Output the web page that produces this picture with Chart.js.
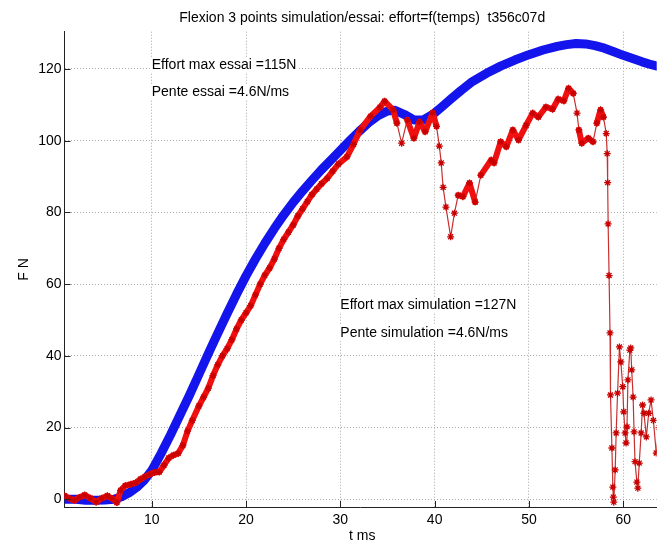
<!DOCTYPE html>
<html>
<head>
<meta charset="utf-8">
<script src="https://cdn.jsdelivr.net/npm/chart.js@4.4.0/dist/chart.umd.min.js"></script>
<style>
  html, body { margin: 0; padding: 0; background: #fff; overflow: hidden; }
  #wrap { width: 662px; height: 546px; }
</style>
</head>
<body>
<div id="wrap"><canvas id="chart" width="662" height="546"></canvas></div>
<script>
// Flexion 3 points - simulation vs essai, effort = f(temps)
const titleText = 'Flexion 3 points simulation/essai: effort=f(temps)  t356c07d';
const xTitle = 't ms';
const yTitle = 'F N';
const xTicks = [10, 20, 30, 40, 50, 60];
const yTicks = [0, 20, 40, 60, 80, 100, 120];
const notes = ['Effort max essai =115N', 'Pente essai =4.6N/ms',
               'Effort max simulation =127N', 'Pente simulation =4.6N/ms'];

// simulation (blue)
const simT = [0.75, 2, 3, 4, 5, 6, 6.8, 7.6, 8.4, 9.2, 10, 11, 12, 13, 14, 15, 16, 17, 18, 19,
              20, 21, 22, 23, 24, 25, 26, 27, 28, 29, 30, 31, 32, 33, 34, 35, 35.8, 36.8, 37.8, 38.8,
              39.8, 40.8, 41.8, 42.8, 44, 45.5, 47, 48.5, 50, 51.5, 53, 54, 55, 56, 57, 58,
              59, 60, 61, 62, 63, 64];
const simF = [0, 0, -0.3, -0.3, -0.2, 0, 0.7, 1.8, 3.3, 5.3, 8, 12.8, 18, 23.5, 29, 34.8, 40.6, 46.3, 51.8, 57.2,
              62.3, 67, 71.4, 75.5, 79.3, 82.8, 86, 89, 91.9, 94.6, 97.3, 100, 102.6, 105, 107, 108.3, 108.5, 107.3, 105.8, 105.8,
              107.3, 109.5, 111.8, 114, 116.5, 118.8, 120.8, 122.5, 124, 125.3, 126.3, 126.8, 127.1, 127, 126.5, 125.8,
              124.8, 123.8, 122.9, 122, 121.2, 120.5];

// essai (red)
const essaiT = [0.75, 1.3, 1.8, 2.3, 2.9, 3.5, 4.1, 4.7, 5.3, 5.8, 6.3, 6.7, 7.2, 7.8, 8.3, 8.8, 9.3, 9.8, 10.3, 10.8,
                11.3, 11.8, 12.3, 12.8, 13.3, 13.8, 14.3, 15, 15.5, 16, 16.5, 17, 17.5, 18, 18.5, 19, 19.5, 20, 20.5, 21,
                21.5, 22, 22.5, 23, 23.5, 24, 24.5, 25, 25.5, 26, 26.5, 27, 27.5, 28, 28.6, 29.2, 29.8, 30.7, 31.4, 32.1,
                33.2, 34.2, 34.7, 35.6, 36.0, 36.5, 37.1, 37.8, 38.4, 39.0, 39.8, 40.2, 40.5, 40.7, 40.9, 41.2, 41.7, 42.1, 42.5, 43.0,
                43.7, 44.3, 44.9, 46.0, 46.3, 47.0, 47.6, 48.3, 48.9, 49.7, 50.4, 51.0, 51.8, 52.5, 53.1, 53.7, 54.2, 54.7, 55.1, 55.3,
                55.6, 56.3, 56.8, 57.2, 57.6, 57.9, 58.2, 58.3, 58.35, 58.4, 58.5, 58.6, 58.65, 58.8, 58.9, 58.95, 59.0, 59.15, 59.25, 59.4,
                59.6, 59.75, 59.95, 60.05, 60.2, 60.3, 60.4, 60.5, 60.7, 60.8, 60.9, 61.05, 61.15, 61.25, 61.45, 61.55, 61.7, 61.9, 62.05, 62.2,
                62.45, 62.7, 62.95, 63.2, 63.5, 63.8];
const essaiF = [1.0, 0.2, -0.3, 0.5, 1.2, 0.3, -0.8, 0.3, 1.0, 0.2, -0.9, 2.5, 3.8, 4.2, 4.6, 5.6, 6.3, 7.0, 7.5, 7.6,
                9.5, 11.5, 12.3, 12.8, 15, 19, 22, 26, 28.5, 31, 34.5, 37.5, 40, 42, 44.5, 47.5, 50, 52, 54, 57,
                60, 62.5, 64.5, 67, 70, 72.5, 74.5, 76.5, 79, 81, 83, 85, 86.5, 88, 89.5, 91.5, 93.5, 95.5, 99, 103,
                106.8, 109.3, 111, 108.6, 104.9, 99.3, 105.8, 100.7, 105.3, 102.5, 107.8, 104, 98.5, 93.8, 87, 81.5, 73.2, 79.8, 84.8, 84.4,
                88.2, 82.9, 90.4, 94.6, 93.8, 99.7, 98.3, 103, 100.2, 104.3, 107.7, 106.6, 109.4, 108.8, 111.6, 111.1, 114.6, 113.2, 107.7, 103,
                99.3, 100.7, 99.7, 104.9, 108.6, 106.6, 102, 96.4, 88.3, 76.8, 62.4, 46.4, 29.1, 14.3, 3.4, 0.6, -0.8, 8.2, 18.5, 29.6,
                42.5, 38.3, 31.4, 24.4, 18.5, 15.7, 20.2, 33.3, 41.6, 42.2, 36.1, 28.5, 18.8, 10.5, 4.8, 3.1, 10.1, 18.5, 26.3, 24,
                17.4, 24, 27.7, 22, 12.9, 20];

const FONT = '"Liberation Sans", Arial, Helvetica, sans-serif';
const X_MIN = 0.75, X_MAX = 63.55, Y_MIN = -2.15, Y_MAX = 130.4;
const RUPTURE_T = 58.2;   // after this the test signal is drawn as single markers

const toPoints = (ts, fs) => ts.map((t, i) => ({ x: t, y: fs[i] }));

// thin line where the markers are spread out, thick band where they pile up
const thin = (ctx) => {
    if (essaiT[ctx.p0DataIndex] >= RUPTURE_T) return true;
    const dx = Math.abs(ctx.p1.x - ctx.p0.x);
    const dy = Math.abs(ctx.p1.y - ctx.p0.y);
    return dy > 4 * Math.max(dx, 0.5) && dy > 14;
};

const overlay = {
    id: 'overlay',
    beforeDatasetsDraw(chart) {
        const { ctx, scales: { x, y } } = chart;
        ctx.save();
        ctx.font = '14px ' + FONT;
        ctx.textBaseline = 'middle';
        ctx.textAlign = 'left';
        const spots = [[10, 121.1], [10, 113.6], [30, 54.2], [30, 46.4]];
        notes.forEach((txt, i) => {
            const px = x.getPixelForValue(spots[i][0]);
            const py = y.getPixelForValue(spots[i][1]);
            const w = ctx.measureText(txt).width;
            ctx.fillStyle = '#fff';
            ctx.fillRect(px - 2, py - 8, w + 4, 16);
            ctx.fillStyle = '#000';
            ctx.fillText(txt, px, py);
        });
        ctx.restore();
    },
    afterDraw(chart) {
        const { ctx, chartArea: a, scales: { x, y } } = chart;
        ctx.save();
        // inward ticks, matlab style
        ctx.strokeStyle = '#222';
        ctx.lineWidth = 1;
        ctx.beginPath();
        yTicks.forEach(v => {
            const py = Math.round(y.getPixelForValue(v)) + 0.5;
            ctx.moveTo(a.left, py);
            ctx.lineTo(a.left + 6, py);
        });
        xTicks.forEach(v => {
            const px = Math.round(x.getPixelForValue(v)) + 0.5;
            ctx.moveTo(px, a.bottom);
            ctx.lineTo(px, a.bottom - 6);
        });
        ctx.stroke();

        ctx.font = '14px ' + FONT;
        ctx.fillStyle = '#000';
        ctx.textAlign = 'center';
        ctx.textBaseline = 'middle';
        const axesRight = x.getPixelForValue(63.9);
        const cx = (a.left + axesRight) / 2;
        ctx.fillText(titleText, cx, 18);
        ctx.fillText(xTitle, cx, 536);
        ctx.translate(24, (a.top + a.bottom) / 2);
        ctx.rotate(-Math.PI / 2);
        ctx.fillText(yTitle, 0, 0);
        ctx.restore();
    }
};

const gridStyle = {
    color: '#a8a8a8',
    lineWidth: 1,
    drawTicks: false
};

new Chart(document.getElementById('chart'), {
    type: 'scatter',
    data: {
        datasets: [
            {
                label: 'essai',
                data: toPoints(essaiT, essaiF),
                showLine: true,
                borderColor: '#f01010',
                borderWidth: 6,
                borderCapStyle: 'round',
                borderJoinStyle: 'round',
                segment: {
                    borderWidth: ctx => thin(ctx) ? 1.2 : 6,
                    borderColor: ctx => thin(ctx) ? '#c83030' : '#f01010'
                },
                pointStyle: 'star',
                pointRadius: 3.5,
                pointBorderWidth: 1.3,
                pointBorderColor: '#c80000',
                pointBackgroundColor: '#c80000',
                order: 0
            },
            {
                label: 'simulation',
                data: toPoints(simT, simF),
                showLine: true,
                borderColor: '#1414ec',
                borderWidth: 9,
                borderCapStyle: 'round',
                borderJoinStyle: 'round',
                pointRadius: 0,
                order: 1
            }
        ]
    },
    options: {
        responsive: false,
        animation: false,
        layout: { padding: { top: 31.7, right: 0, left: 0, bottom: 0 } },
        plugins: {
            legend: { display: false },
            tooltip: { enabled: false },
            title: { display: false }
        },
        scales: {
            x: {
                type: 'linear',
                min: X_MIN,
                max: X_MAX,
                afterFit: s => { s.height = 39; },
                afterBuildTicks: s => { s.ticks = xTicks.map(v => ({ value: v })); },
                ticks: {
                    font: { family: FONT, size: 14 },
                    color: '#000',
                    padding: 5,
                    maxRotation: 0
                },
                grid: gridStyle,
                border: { display: true, color: '#222', width: 1, dash: [1, 2] }
            },
            y: {
                type: 'linear',
                min: Y_MIN,
                max: Y_MAX,
                afterFit: s => { s.width = 64.5; },
                afterBuildTicks: s => { s.ticks = yTicks.map(v => ({ value: v })); },
                ticks: {
                    font: { family: FONT, size: 14 },
                    color: '#000',
                    padding: 3
                },
                grid: gridStyle,
                border: { display: true, color: '#222', width: 1, dash: [1, 2] }
            }
        }
    },
    plugins: [overlay]
});
</script>
</body>
</html>
